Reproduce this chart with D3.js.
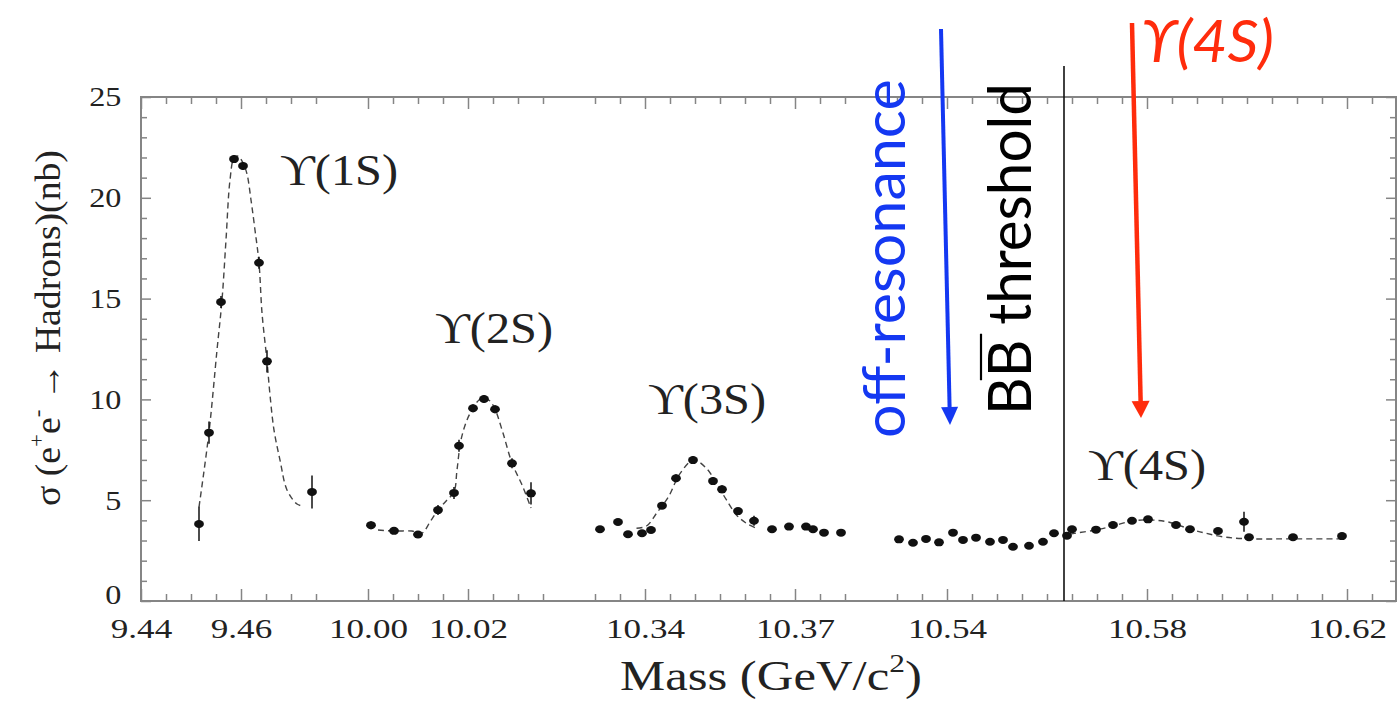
<!DOCTYPE html>
<html><head><meta charset="utf-8">
<script src="https://cdn.jsdelivr.net/npm/d3@7"></script>
<style>body{margin:0;background:#fff;} svg{display:block;}</style>
</head><body>
<svg id="c" width="1397" height="701"></svg>
<script>
// ---------- axis definition ----------
const massBreaks = [9.44, 9.4802, 9.9948, 10.0404, 10.325, 10.385, 10.5246, 10.6298];
const majorTicks = [9.44, 9.46, 10.00, 10.02, 10.34, 10.37, 10.54, 10.58, 10.62];
const majorTickLabels = ["9.44","9.46","10.00","10.02","10.34","10.37","10.54","10.58","10.62"];
const minorTicks = [9.445,9.45,9.455,9.465,9.47,9.475,
  10.005,10.01,10.015,10.025,10.03,10.035,
  10.33,10.335,10.345,10.35,10.355,10.36,10.365,10.375,10.38,
  10.53,10.535,10.545,10.55,10.555,10.56,10.565,10.57,10.575,10.585,10.59,10.595,10.6,10.605,10.61,10.615,10.625];
const yMajor = [0,5,10,15,20,25];
const yMinor = [1,2,3,4,6,7,8,9,11,12,13,14,16,17,18,19,21,22,23,24];

// ---------- data: Upsilon(1S) ----------
const y1sMass  = [9.4516, 9.4536, 9.4560, 9.4586, 9.4604, 9.4636, 9.4652, 9.4742];
const y1sSigma = [3.82, 8.35, 14.83, 21.92, 21.58, 16.78, 11.89, 5.41];
const y1sErr   = [0.85, 0.55, 0.3, 0.2, 0.2, 0.3, 0.55, 0.82];
const fit1sMass  = [9.4516,9.4536,9.4552,9.4562,9.4570,9.4578,9.4586,9.4594,9.4604,9.4612,9.4620,9.4628,9.4636,9.4642,9.4652,9.4658,9.4666,9.4678,9.4692,9.4712,9.4724];
const fit1sSigma = [4.66,8.38,12.45,14.93,17.91,20.88,21.97,22.07,21.73,21.18,19.89,18.40,16.77,14.29,11.90,10.22,8.48,6.99,5.51,4.81,4.71];

// ---------- data: Upsilon(2S) ----------
const y2sMass  = [10.0006,10.0052,10.0100,10.0140,10.0172,10.0182,10.0210,10.0232,10.0254,10.0288,10.0326];
const y2sSigma = [3.76,3.48,3.30,4.51,5.36,7.70,9.56,10.02,9.51,6.83,5.34];
const y2sErr   = [0.2,0.15,0.15,0.25,0.3,0.3,0.2,0.2,0.2,0.25,0.55];
const fit2sMass  = [10.0020,10.0054,10.0088,10.0108,10.0124,10.0140,10.0158,10.0172,10.0178,10.0186,10.0198,10.0210,10.0222,10.0232,10.0244,10.0254,10.0270,10.0288,10.0310,10.0326];
const fit2sSigma = [3.52,3.47,3.47,3.37,3.92,4.51,5.01,5.41,6.5,7.99,8.98,9.57,9.97,10.07,9.92,9.52,8.33,6.85,5.65,4.61];

// ---------- data: Upsilon(3S) ----------
const y3sMass  = [10.3310,10.3346,10.3366,10.3394,10.3412,10.3434,10.3462,10.3496,10.3536,10.3554,10.3586,10.3618,10.3654,10.3688,10.3722,10.3736,10.3758,10.3792];
const y3sSigma = [3.56,3.92,3.31,3.36,3.52,4.73,6.09,6.99,5.95,5.54,4.46,3.98,3.56,3.69,3.69,3.56,3.39,3.39];
const y3sErr   = [0.15,0.15,0.15,0.15,0.15,0.15,0.2,0.2,0.2,0.2,0.15,0.25,0.15,0.15,0.15,0.15,0.15,0.15];
const fit3sMass  = [10.3383,10.3403,10.3423,10.3447,10.3470,10.3497,10.3523,10.3543,10.3563,10.3583,10.3603,10.3623];
const fit3sSigma = [3.61,3.72,4.35,5.17,6.32,6.99,6.58,5.84,5.01,4.27,3.85,3.61];

// ---------- data: Upsilon(4S) region ----------
const y4sMass  = [10.5304,10.5332,10.5358,10.5384,10.5412,10.5432,10.5458,10.5486,10.5512,10.5532,10.5564,10.5592,10.5614,10.5640,10.5650,10.5698,10.5732,10.5770,10.5802,10.5858,10.5886,10.5942,10.5994,10.6004,10.6092,10.6190];
const y4sSigma = [3.06,2.89,3.08,2.91,3.39,3.03,3.14,2.94,3.03,2.69,2.74,2.94,3.36,3.24,3.56,3.54,3.77,3.98,4.05,3.77,3.56,3.47,3.93,3.16,3.16,3.22];
const y4sErr   = [0.1,0.1,0.1,0.1,0.1,0.1,0.1,0.1,0.1,0.1,0.1,0.1,0.1,0.1,0.1,0.1,0.1,0.1,0.1,0.1,0.1,0.1,0.5,0.1,0.1,0.1];
const fit4sMass  = [10.5646,10.5696,10.5732,10.5770,10.5806,10.5842,10.5886,10.5916,10.5956,10.6006,10.6066,10.6196];
const fit4sSigma = [3.32,3.52,3.72,3.97,4.02,3.92,3.57,3.37,3.17,3.08,3.08,3.08];

const resonanceLabels = ["\u03D2(1S)","\u03D2(2S)","\u03D2(3S)","\u03D2(4S)"];
const bbThresholdMass = 10.5634;
const offResonanceMass = [10.5388, 10.5406];
const y4sMarkerMass = [10.5770, 10.5788];

// ---------- drawing ----------
const svg = d3.select('#c');
const x = d3.scaleLinear().domain(massBreaks).range([141,342,342,570,570,870,870,1396]);
const y = d3.scaleLinear().domain([0,25]).range([601,97]);
const AX = '#858585';
const SERIF = "'Liberation Serif','DejaVu Serif','Times New Roman',serif";
const SANS = "Lato,'Open Sans','DejaVu Sans',sans-serif";
const X0 = x.range()[0], X1 = x.range()[x.range().length-1];

function styleAxis(g){ g.select('.domain').remove(); g.selectAll('.tick line').attr('stroke',AX).attr('stroke-width',1.5); }

// frame
svg.append('rect').attr('x',X0).attr('y',y(25)).attr('width',X1-X0).attr('height',y(0)-y(25))
  .attr('fill','none').attr('stroke',AX).attr('stroke-width',2);

// bottom axis
const gB = svg.append('g').attr('transform',`translate(0,${y(0)})`)
  .call(d3.axisBottom(x).tickValues(majorTicks).tickSize(-12).tickPadding(18).tickFormat((d,i)=>majorTickLabels[i]))
  .call(styleAxis).attr('font-family',SERIF).attr('font-size',27);
gB.selectAll('text').attr('fill','#222').attr('transform','scale(1.3,1)');
svg.append('g').attr('transform',`translate(0,${y(0)})`)
  .call(d3.axisBottom(x).tickValues(minorTicks).tickSize(-7).tickFormat('')).call(styleAxis);
// top axis
svg.append('g').attr('transform',`translate(0,${y(25)})`)
  .call(d3.axisTop(x).tickValues(majorTicks).tickSize(-12).tickFormat('')).call(styleAxis);
svg.append('g').attr('transform',`translate(0,${y(25)})`)
  .call(d3.axisTop(x).tickValues(minorTicks).tickSize(-7).tickFormat('')).call(styleAxis);
// left axis
const gL = svg.append('g').attr('transform',`translate(${X0},0)`)
  .call(d3.axisLeft(y).tickValues(yMajor).tickSize(-10).tickPadding(17).tickFormat(d3.format('d')))
  .call(styleAxis).attr('font-family',SERIF).attr('font-size',28);
gL.selectAll('text').attr('fill','#222').attr('transform','scale(1.15,1)');
gL.selectAll('.tick').filter(d=>d===0).select('text').attr('dy','0.1em');
svg.append('g').attr('transform',`translate(${X0},0)`)
  .call(d3.axisLeft(y).tickValues(yMinor).tickSize(-6).tickFormat('')).call(styleAxis);
// right axis
svg.append('g').attr('transform',`translate(${X1},0)`)
  .call(d3.axisRight(y).tickValues(yMajor).tickSize(-10).tickFormat('')).call(styleAxis);
svg.append('g').attr('transform',`translate(${X1},0)`)
  .call(d3.axisRight(y).tickValues(yMinor).tickSize(-6).tickFormat('')).call(styleAxis);

// text helper: fit to a target length along its direction
function fitText(ax, ay, rot, target, build){
  const g = svg.append('g');
  const t = g.append('text').attr('x',0).attr('y',0);
  build(t);
  const w = t.node().getBBox().width;
  const k = target / w;
  g.attr('transform',`translate(${ax},${ay}) rotate(${rot}) scale(${k},1)`);
  return {g, t, k};
}

// fits and data
const line = d3.line().x(d=>x(d[0])).y(d=>y(d[1])).curve(d3.curveCatmullRom.alpha(0.5));
const fits = [[fit1sMass,fit1sSigma],[fit2sMass,fit2sSigma],[fit3sMass,fit3sSigma],[fit4sMass,fit4sSigma]];
svg.append('g').selectAll('path').data(fits).join('path')
  .attr('d',f=>line(f[0].map((m,i)=>[m,f[1][i]])))
  .attr('fill','none').attr('stroke','#444').attr('stroke-width',1.4).attr('stroke-dasharray','6,4');

const sets = [[y1sMass,y1sSigma,y1sErr],[y2sMass,y2sSigma,y2sErr],[y3sMass,y3sSigma,y3sErr],[y4sMass,y4sSigma,y4sErr]];
const pts = sets.flatMap(s=>s[0].map((m,i)=>({m, s:s[1][i], e:s[2][i]})));
svg.append('g').selectAll('line').data(pts).join('line')
  .attr('x1',d=>x(d.m)).attr('x2',d=>x(d.m)).attr('y1',d=>y(d.s-d.e)).attr('y2',d=>y(d.s+d.e))
  .attr('stroke','#111').attr('stroke-width',1.5);
svg.append('g').selectAll('ellipse').data(pts).join('ellipse')
  .attr('cx',d=>x(d.m)).attr('cy',d=>y(d.s)).attr('rx',4.9).attr('ry',4).attr('fill','#111');

// resonance labels
const labelAnchors = [[9.4678,20.63],[10.0134,12.80],[10.3406,9.28],[10.5682,6.0]];
resonanceLabels.forEach((txt,i)=>{
  fitText(x(labelAnchors[i][0]), y(labelAnchors[i][1]), 0, 118, t=>t.text(txt)
    .attr('font-family',SERIF).attr('font-size',44).attr('fill','#222'));
});

// axis titles
fitText(620, 690, 0, 302, t=>{
  t.attr('font-family',SERIF).attr('font-size',42).attr('fill','#222');
  t.append('tspan').text('Mass (GeV/c');
  t.append('tspan').text('2').attr('font-size',26).attr('dy',-18);
  t.append('tspan').text(')').attr('dy',18);
});
fitText(60, 506, -90, 356, t=>{
  t.attr('font-family',SERIF).attr('font-size',36).attr('fill','#222');
  t.append('tspan').text('\u03C3 (e');
  t.append('tspan').text('+').attr('font-size',22).attr('dy',-16);
  t.append('tspan').text('e').attr('dy',16);
  t.append('tspan').text('-').attr('font-size',22).attr('dy',-16);
  t.append('tspan').text(' \u2192 Hadrons)(nb)').attr('dy',16);
});

// BB threshold line
svg.append('line').attr('x1',x(bbThresholdMass)).attr('x2',x(bbThresholdMass))
  .attr('y1',y(26.54)).attr('y2',y(0)).attr('stroke','#111').attr('stroke-width',1.6);

// arrows
function arrow(x1,y1,x2,y2,color,w,hl,hw){
  const dx=x2-x1, dy=y2-y1, L=Math.hypot(dx,dy), ux=dx/L, uy=dy/L;
  const bx=x2-ux*hl, by=y2-uy*hl;
  svg.append('line').attr('x1',x1).attr('y1',y1).attr('x2',bx).attr('y2',by)
    .attr('stroke',color).attr('stroke-width',w);
  svg.append('polygon').attr('points',
    `${x2},${y2} ${bx-uy*hw/2},${by+ux*hw/2} ${bx+uy*hw/2},${by-ux*hw/2}`).attr('fill',color);
}
const BLUE = '#1438f2', RED = '#ff2c0c';
arrow(x(offResonanceMass[0]), y(28.37), x(offResonanceMass[1]), y(8.73), BLUE, 4, 18, 17);
arrow(x(y4sMarkerMass[0]), y(28.67), x(y4sMarkerMass[1]), y(9.08), RED, 4.5, 17, 18);

// annotation texts
fitText(905, 438, -90, 359, t=>t.text('off-resonance').attr('font-family',SANS).attr('font-size',58).attr('fill',BLUE));
const bb = fitText(1031, 415, -90, 332, t=>t.text('BB threshold').attr('font-family',SANS).attr('font-size',60).attr('fill','#000'));
{
  const n = bb.t.node();
  const s = n.getStartPositionOfChar(1).x, e = n.getEndPositionOfChar(1).x;
  bb.g.append('line').attr('x1',s-3).attr('x2',e+6).attr('y1',-50).attr('y2',-50)
    .attr('stroke','#000').attr('stroke-width',2.2);
}
fitText(1141, 62, 0, 133, t=>t.text(resonanceLabels[3]).attr('font-family',SANS).attr('font-style','italic')
  .attr('font-size',58).attr('fill',RED));
</script>
</body></html>
